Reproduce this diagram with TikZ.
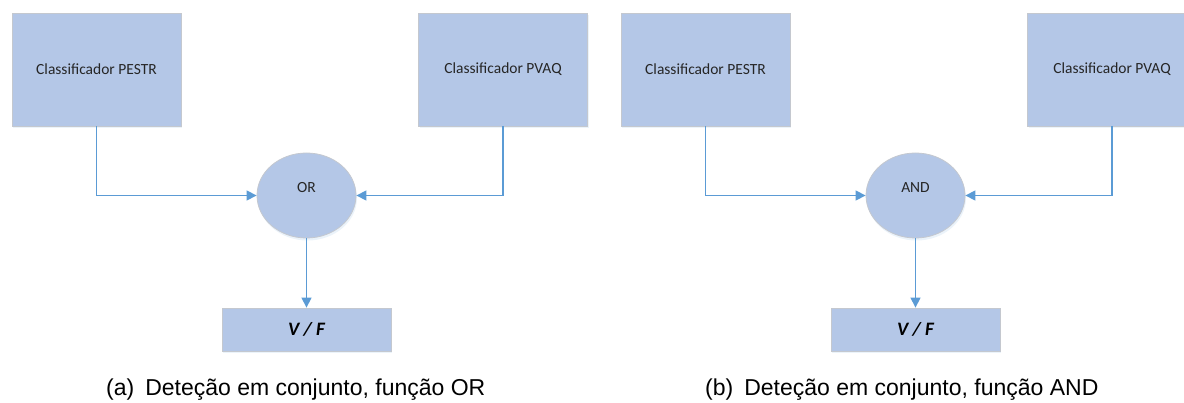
\documentclass[tikz,border=0pt]{standalone}
\usepackage{fontspec}
\setmainfont{Carlito}
\newfontfamily\capfont{Liberation Sans}
\usetikzlibrary{arrows.meta,shapes.geometric,shadows}
\definecolor{boxfill}{HTML}{B4C7E7}
\definecolor{boxedge}{HTML}{C4C8CF}
\definecolor{wire}{HTML}{5B9BD5}
\tikzset{
  shade/.style={drop shadow={opacity=0.12,shadow xshift=1pt,shadow yshift=-2.5pt,fill=wire}},
  classbox/.style={rectangle,draw=boxedge,line width=0.8pt,fill=boxfill,shade,
    minimum width=169pt,minimum height=113pt,inner sep=0pt,
    font=\fontsize{15.5}{18}\selectfont,text=black!85},
  gate/.style={ellipse,draw=boxedge,line width=0.8pt,fill=boxfill,shade,
    minimum width=99pt,minimum height=85pt,inner sep=0pt},
  gatelabel/.style={font=\fontsize{15.5}{18}\selectfont,text=black!85},
  outbox/.style={rectangle,draw=boxedge,line width=0.8pt,fill=boxfill,shade,
    minimum width=169pt,minimum height=43pt,inner sep=0pt,
    font=\fontsize{19}{22}\selectfont\bfseries\itshape},
  link/.style={draw=wire,line width=1.3pt,-{Triangle[length=10pt,width=10pt]}},
  caption/.style={font=\capfont\fontsize{23}{26}\selectfont,text=black,inner sep=0pt}
}
\begin{document}
\begin{tikzpicture}[x=1pt,y=-1pt]
\useasboundingbox (0,0) rectangle (1184,403);
\clip (0,0) rectangle (1184,403);

% (a) OR combination
\node[classbox] (pa) at (96.5,69.5) {Classificador PESTR};
\node[classbox] (qa) at (503,69.5) {Classificador PVAQ};
\node[gate] (ora) at (306.5,195.5) {};
\node[gatelabel] (orlab) at (306.5,188) {OR};
\node[outbox] (vfa) at (306.5,329.5) {V / F};
\draw[link] (pa.south) |- (ora.west);
\draw[link] (qa.south) |- (ora.east);
\draw[link] (ora.south) -- (vfa.north);
\node[caption,anchor=west] (capa) at (106,390) {(a)\hspace{11pt}Deteção em conjunto, função OR};

% (b) AND combination
\node[classbox] (pb) at (705.5,69.5) {Classificador PESTR};
\node[classbox] (qb) at (1112,69.5) {Classificador PVAQ};
\node[gate] (andb) at (915.5,195.5) {};
\node[gatelabel] (andlab) at (915.5,188) {AND};
\node[outbox] (vfb) at (915.5,329.5) {V / F};
\draw[link] (pb.south) |- (andb.west);
\draw[link] (qb.south) |- (andb.east);
\draw[link] (andb.south) -- (vfb.north);
\node[caption,anchor=west] (capb) at (705,390) {(b)\hspace{11pt}Deteção em conjunto, função AND};
\end{tikzpicture}
\end{document}
